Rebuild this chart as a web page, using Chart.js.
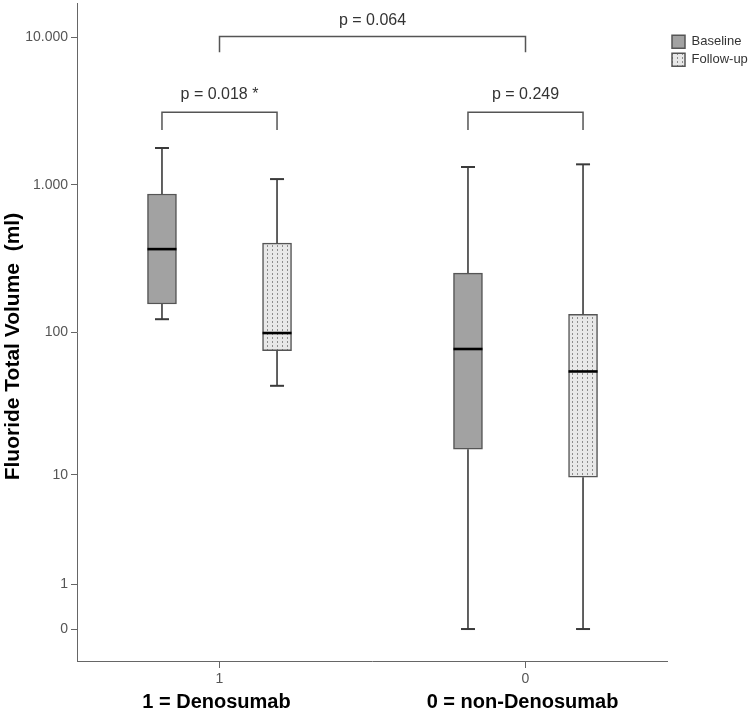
<!DOCTYPE html>
<html>
<head>
<meta charset="utf-8">
<script src="https://cdn.jsdelivr.net/npm/chart.js@4.4.1/dist/chart.umd.min.js"></script>
<style>
  body { margin: 0; background: #fff; }
  #wrap { width: 750px; height: 720px; }
</style>
</head>
<body>
<div id="wrap"><canvas id="box"></canvas></div>
<script>
// groups on the x axis (code + meaning)
const groups = ['1', '0'];
const groupNames = ['1 = Denosumab', '0 = non-Denosumab'];
const seriesNames = ['Baseline', 'Follow-up'];

// box plot statistics, ml
const baseMin = [123, 0];
const baseQ1 = [156, 15.4];
const baseMed = [368, 77];
const baseQ3 = [869, 253];
const baseMax = [1778, 1323];

const followMin = [43, 0];
const followQ1 = [75, 9.6];
const followMed = [99, 54];
const followQ3 = [404, 133];
const followMax = [1096, 1379];

const yTicks = [0, 1, 10, 100, 1000, 10000];
const yTickLabels = ['0', '1', '10', '100', '1.000', '10.000'];

// p values: within group 1, within group 0, between groups
const pWithin = ['p = 0.018 *', 'p = 0.249'];
const pBetween = 'p = 0.064';

const FONT = '"Liberation Sans", Arial, sans-serif';
const tr = v => Math.log10(v + 1);   // log(x+1) axis, so 0 can be shown
const OFF = 0.188;                    // half distance between the two boxes of a group

const stats = [
  { min: baseMin, q1: baseQ1, med: baseMed, q3: baseQ3, max: baseMax },
  { min: followMin, q1: followQ1, med: followMed, q3: followQ3, max: followMax }
];

const canvas = document.getElementById('box');
const pctx = canvas.getContext('2d');

function dotPattern() {
  const c = document.createElement('canvas');
  c.width = 5; c.height = 4;
  const g = c.getContext('2d');
  g.fillStyle = '#e8e8e8';
  g.fillRect(0, 0, 5, 4);
  g.fillStyle = '#8c8c8c';
  g.fillRect(2, 1, 1, 2);
  return pctx.createPattern(c, 'repeat');
}

function line(ctx, x1, y1, x2, y2) {
  ctx.beginPath();
  ctx.moveTo(x1, y1);
  ctx.lineTo(x2, y2);
  ctx.stroke();
}

const boxParts = {
  id: 'boxParts',
  afterDatasetsDraw(chart) {
    const { ctx, scales: { y } } = chart;
    ctx.save();
    stats.forEach((st, s) => {
      const meta = chart.getDatasetMeta(s);
      groups.forEach((g, i) => {
        const bar = meta.data[i];
        const px = bar.x, half = bar.width / 2;
        const yMin = y.getPixelForValue(tr(st.min[i]));
        const yQ1 = y.getPixelForValue(tr(st.q1[i]));
        const yMed = y.getPixelForValue(tr(st.med[i]));
        const yQ3 = y.getPixelForValue(tr(st.q3[i]));
        const yMax = y.getPixelForValue(tr(st.max[i]));
        ctx.strokeStyle = '#3a3a3a';
        ctx.lineWidth = 1.6;
        line(ctx, px, yMin, px, yQ1);
        line(ctx, px, yQ3, px, yMax);
        ctx.lineWidth = 2;
        line(ctx, px - 7, yMin, px + 7, yMin);
        line(ctx, px - 7, yMax, px + 7, yMax);
        ctx.strokeStyle = '#000';
        ctx.lineWidth = 2.6;
        line(ctx, px - half, yMed, px + half, yMed);
      });
    });
    ctx.restore();
  },
  afterDraw(chart) {
    const { ctx, scales: { x, y } } = chart;
    ctx.save();
    ctx.strokeStyle = '#555';
    ctx.lineWidth = 1.5;
    ctx.fillStyle = '#333';
    ctx.font = '16px ' + FONT;
    ctx.textAlign = 'center';
    ctx.textBaseline = 'middle';
    // brackets inside each group
    groups.forEach((g, i) => {
      const xa = chart.getDatasetMeta(0).data[i].x;
      const xb = chart.getDatasetMeta(1).data[i].x;
      const yt = y.getPixelForValue(tr(3100));
      const yl = y.getPixelForValue(tr(2350));
      ctx.beginPath();
      ctx.moveTo(xa, yl); ctx.lineTo(xa, yt); ctx.lineTo(xb, yt); ctx.lineTo(xb, yl);
      ctx.stroke();
      ctx.fillText(pWithin[i], (xa + xb) / 2, yt - 18);
    });
    // bracket between groups
    const x0 = x.getPixelForValue(0), x1 = x.getPixelForValue(1);
    const yt = y.getPixelForValue(tr(10100));
    const yl = y.getPixelForValue(tr(7900));
    ctx.beginPath();
    ctx.moveTo(x0, yl); ctx.lineTo(x0, yt); ctx.lineTo(x1, yt); ctx.lineTo(x1, yl);
    ctx.stroke();
    ctx.fillText(pBetween, (x0 + x1) / 2, yt - 16);
    // group names under the axis
    ctx.fillStyle = '#000';
    ctx.font = 'bold 20px ' + FONT;
    groupNames.forEach((n, i) => {
      ctx.fillText(n, x.getPixelForValue(i) - 3, x.top + 41);
    });
    ctx.restore();
  }
};

const toBars = (st, s) => groups.map((g, i) => ({
  x: i + (s === 0 ? -OFF : OFF),
  y: [tr(st.q1[i]), tr(st.q3[i])]
}));

new Chart(canvas, {
  type: 'bar',
  data: {
    datasets: [{
      label: seriesNames[0],
      data: toBars(stats[0], 0),
      backgroundColor: '#a2a2a2',
      borderColor: '#555',
      borderWidth: 1.5,
      borderSkipped: false,
      barThickness: 29,
      grouped: false
    }, {
      label: seriesNames[1],
      data: toBars(stats[1], 1),
      backgroundColor: dotPattern(),
      borderColor: '#555',
      borderWidth: 1.5,
      borderSkipped: false,
      barThickness: 29,
      grouped: false
    }]
  },
  options: {
    responsive: true,
    maintainAspectRatio: false,
    animation: false,
    layout: { padding: { top: 3, left: 0, right: 0, bottom: 0 } },
    scales: {
      x: {
        type: 'linear',
        offset: false,
        min: -0.4657,
        max: 1.4624,
        afterBuildTicks: s => { s.ticks = groups.map((g, i) => ({ value: i })); },
        afterFit: s => { s.height = 59; s.paddingLeft = 0; s.paddingRight = 0; },
        ticks: {
          callback: (v, i) => groups[i],
          color: '#555',
          font: { family: FONT, size: 14 },
          padding: 3,
          maxRotation: 0
        },
        grid: { offset: false, drawOnChartArea: false, tickLength: 7, color: '#666' },
        border: { color: '#666', width: 1 }
      },
      y: {
        type: 'linear',
        min: -0.216,
        max: 4.23,
        afterBuildTicks: s => { s.ticks = yTicks.map(v => ({ value: tr(v) })); },
        afterFit: s => { s.width = 77; s.paddingTop = 0; s.paddingBottom = 0; },
        ticks: {
          callback: (v, i) => yTickLabels[i],
          color: '#555',
          font: { family: FONT, size: 14 },
          padding: 3
        },
        grid: { drawOnChartArea: false, tickLength: 6, color: '#666' },
        border: { color: '#666', width: 1 },
        title: {
          display: true,
          text: 'Fluoride Total Volume  (ml)     ',
          color: '#000',
          font: { family: FONT, size: 21, weight: 'bold' },
          padding: { top: 1, bottom: 0 }
        }
      }
    },
    plugins: {
      tooltip: { enabled: false },
      legend: {
        position: 'right',
        align: 'start',
        maxWidth: 83,
        title: { display: true, text: '', font: { size: 1 }, padding: { top: 0, bottom: 26 } },
        labels: {
          boxWidth: 13,
          boxHeight: 13,
          padding: 5,
          color: '#333',
          font: { family: FONT, size: 13 }
        }
      }
    }
  },
  plugins: [boxParts]
});
</script>
</body>
</html>
